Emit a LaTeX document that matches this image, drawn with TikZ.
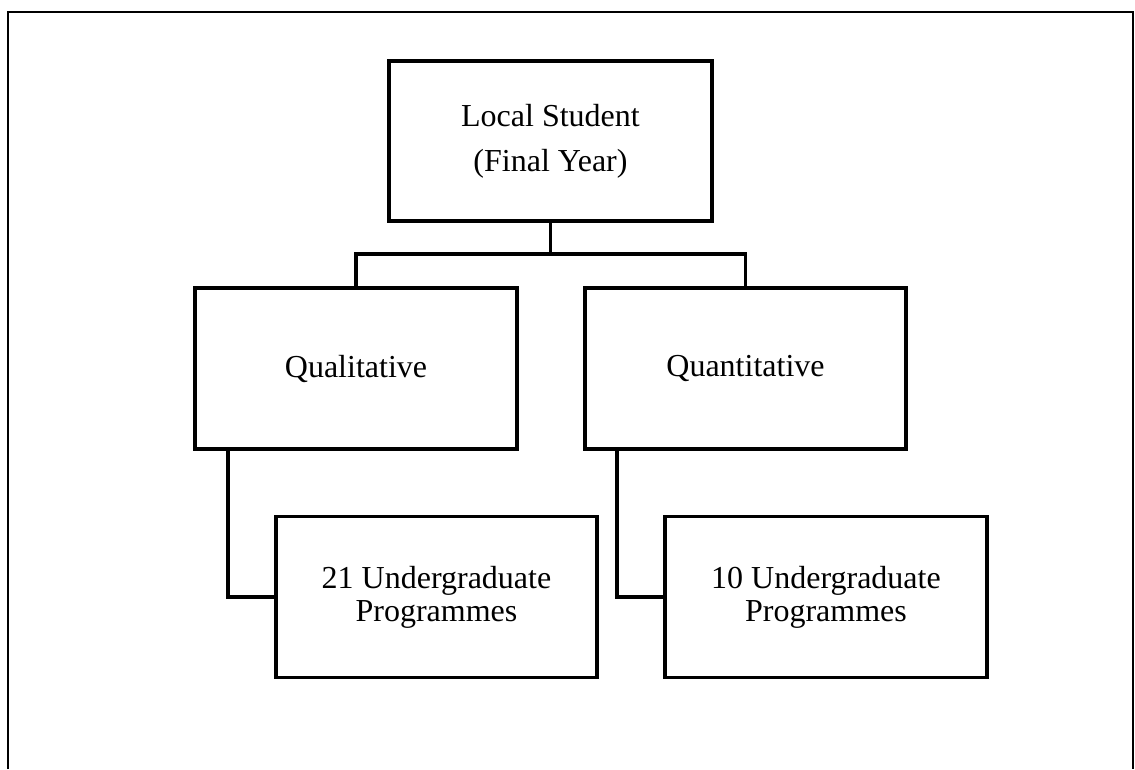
\documentclass[tikz,border=0pt]{standalone}
\usepackage{fontspec}
\setmainfont{Liberation Serif}
\usetikzlibrary{calc}
\begin{document}
\begin{tikzpicture}[x=1pt,y=-1pt,
  boxnode/.style={draw,line width=3.5pt,outer sep=0pt,inner sep=0pt,align=center,
    font=\fontsize{32}{45}\selectfont,minimum height=161pt},
  progbox/.style={boxnode,font=\fontsize{32}{33}\selectfont},
  link/.style={line width=3.5pt},
  frameline/.style={line width=2.5pt}]
\useasboundingbox (0,0) rectangle (1135,769);
\draw[frameline] (8,769) -- (8,12) -- (1133,12) -- (1133,769);
\node[boxnode,minimum width=323pt,minimum height=160pt] (top) at (550.5,141) {Local Student\\(Final Year)};
\node[boxnode,minimum width=322pt] (qual) at (356,368.5) {Qualitative};
\node[boxnode,minimum width=321pt] (quant) at (745.5,368.5) {Quantitative};
\node[progbox,minimum width=321pt] (b21) at (436.5,597) {21 Undergraduate\\Programmes};
\node[progbox,minimum width=322pt] (b10) at (826,597) {10 Undergraduate\\Programmes};
\coordinate (junc) at ($(top.south)+(0,33)$);
\draw[link] (top.south) -- (junc);
\draw[link] (junc) -| (qual.north);
\draw[link] (junc) -| (quant.north);
\draw[link] ($(qual.south west)+(33,0)$) |- (b21.west);
\draw[link] ($(quant.south west)+(32,0)$) |- (b10.west);
\end{tikzpicture}
\end{document}
